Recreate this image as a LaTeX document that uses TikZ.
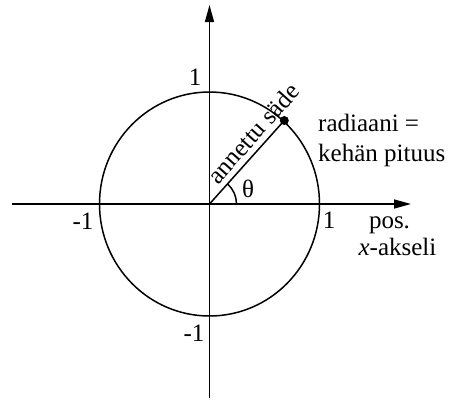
\documentclass[tikz,border=0pt]{standalone}
\usepackage{fontspec}
\setmainfont{Liberation Serif}
\usetikzlibrary{arrows.meta}
\begin{document}
\begin{tikzpicture}[x=1pt,y=-1pt,
  axis/.style={line width=1.5pt,-{Triangle[length=17pt,width=9pt]}},
  curve/.style={line width=1.5pt},
  lbl/.style={inner sep=0pt,anchor=base,font=\fontsize{25}{30}\selectfont},
  lblw/.style={lbl,anchor=base west}]
\useasboundingbox (0,0) rectangle (451,400);
\coordinate (C) at (209.5,204);
\coordinate (xs) at (12,204);
\coordinate (xe) at (411,204);
\coordinate (ys) at (209.5,398);
\coordinate (ye) at (209.5,5);
\draw[axis] (xs) -- (xe);
\draw[axis] (ys) -- (ye);
\draw[curve] (C) ellipse[x radius=110, y radius=112];
\node[circle, fill, inner sep=0pt, minimum size=9pt] (dot) at (284.3,120.5) {};
\draw[curve] (C) -- (dot.center);
\draw[curve] (C) ++(27,0) arc[start angle=0, end angle=-48.2, radius=27];
\node[lbl, rotate=48.2] (sade) at (259.5,139) {annettu säde};
\node[lbl] (theta) at (248,197) {θ};
\node[lbl] (ytop) at (195,85) {1};
\node[lbl] (xright) at (329,228) {1};
\node[lbl] (xleft) at (83,229) {-1};
\node[lbl] (ybot) at (194,341) {-1};
\node[lbl] (pos) at (389.5,228) {pos.};
\node[lbl] (akseli) at (397.5,255) {\textit{x}-akseli};
\node[lblw] (rad) at (318,131.5) {radiaani =};
\node[lblw] (keha) at (318,161.5) {kehän pituus};
\end{tikzpicture}
\end{document}
